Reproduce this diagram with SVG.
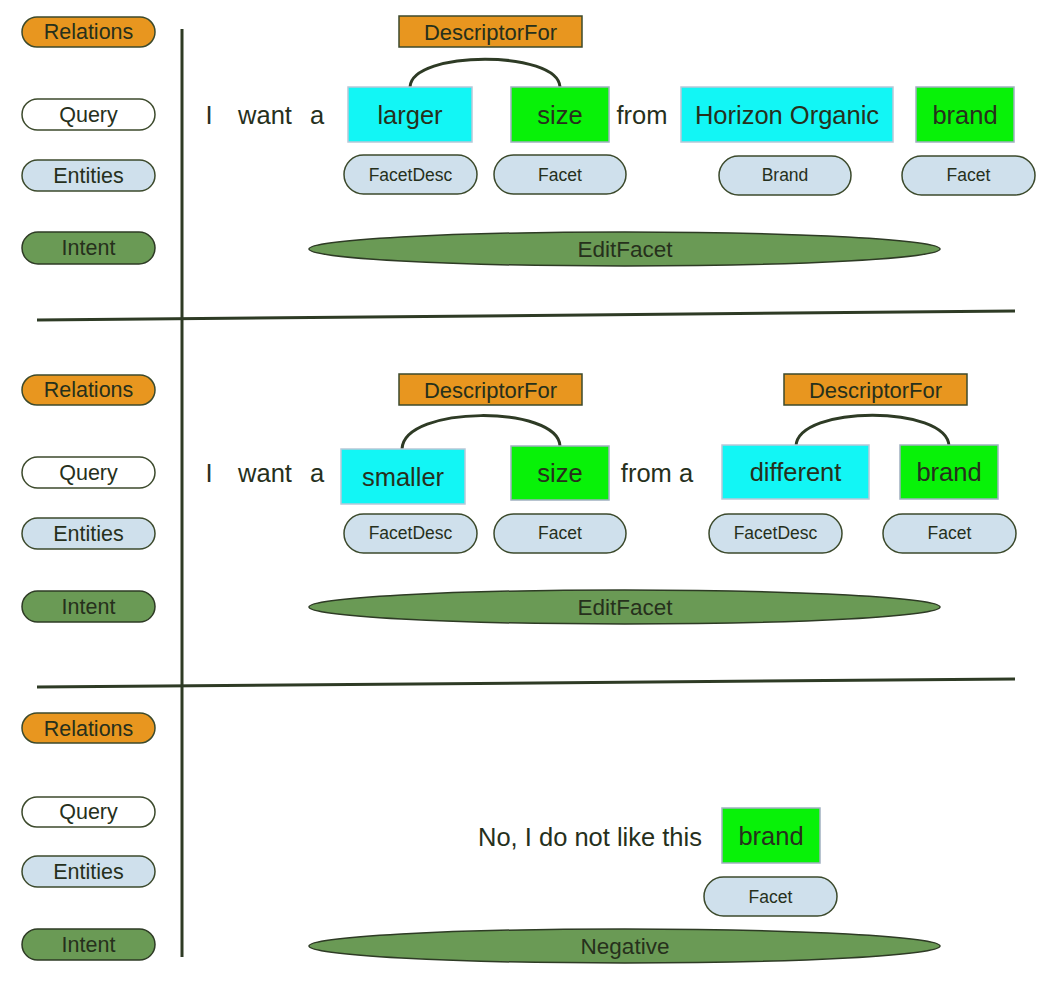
<svg xmlns="http://www.w3.org/2000/svg" width="1048" height="988" viewBox="0 0 1048 988">
<style>
text{font-family:"Liberation Sans",Arial,sans-serif;fill:#26301c;text-anchor:middle;dominant-baseline:central}
.lbl{font-size:21.5px}
.rel{fill:#e8961f;stroke:#3c4a2c;stroke-width:1.5}
.qry{fill:#ffffff;stroke:#3c4a2c;stroke-width:1.5}
.ent{fill:#cfe0ec;stroke:#3c4a2c;stroke-width:1.5}
.int{fill:#6a9a55;stroke:#2e3b25;stroke-width:1.5}
.desc{fill:#e8961f;stroke:#3c4a2c;stroke-width:1.5}
.cy{fill:#12f6f5;stroke:#b8c8d8;stroke-width:1.5}
.gr{fill:#08f208;stroke:#a0b0c0;stroke-width:1.5}
.w{font-size:25.5px}
.s{font-size:17.5px}
.dt{font-size:22px}
.it{font-size:22.5px}
.arc{fill:none;stroke:#2e3b25;stroke-width:3}
.sep{stroke:#2e3b25;stroke-width:3}
</style>
<g id="separators">
<line class="sep" x1="182" y1="29" x2="182" y2="957"/>
<line class="sep" x1="37" y1="320" x2="1015" y2="311"/>
<line class="sep" x1="37" y1="687" x2="1015" y2="679"/>
</g>
<g id="legend1">
<rect class="rel" x="22" y="17" width="133" height="30" rx="15"/><text class="lbl" x="88.5" y="32">Relations</text>
<rect class="qry" x="22" y="99" width="133" height="31" rx="15.5"/><text class="lbl" x="88.5" y="115">Query</text>
<rect class="ent" x="22" y="160" width="133" height="31" rx="15.5"/><text class="lbl" x="88.5" y="176">Entities</text>
<rect class="int" x="22" y="232" width="133" height="32" rx="16"/><text class="lbl" x="88.5" y="248">Intent</text>
</g>
<g id="legend2">
<rect class="rel" x="22" y="375" width="133" height="30" rx="15"/><text class="lbl" x="88.5" y="390">Relations</text>
<rect class="qry" x="22" y="457" width="133" height="31" rx="15.5"/><text class="lbl" x="88.5" y="473">Query</text>
<rect class="ent" x="22" y="518" width="133" height="31" rx="15.5"/><text class="lbl" x="88.5" y="534">Entities</text>
<rect class="int" x="22" y="591" width="133" height="31" rx="15.5"/><text class="lbl" x="88.5" y="607">Intent</text>
</g>
<g id="legend3">
<rect class="rel" x="22" y="713" width="133" height="30" rx="15"/><text class="lbl" x="88.5" y="729">Relations</text>
<rect class="qry" x="22" y="797" width="133" height="30" rx="15"/><text class="lbl" x="88.5" y="812">Query</text>
<rect class="ent" x="22" y="856" width="133" height="31" rx="15.5"/><text class="lbl" x="88.5" y="872">Entities</text>
<rect class="int" x="22" y="929" width="133" height="31" rx="15.5"/><text class="lbl" x="88.5" y="945">Intent</text>
</g>
<g id="connectors">
<path class="arc" d="M410,87 C412,50 558,50 560,87"/>
<path class="arc" d="M402,449 C404,405 558,405 560,446"/>
<path class="arc" d="M796,446 C798,405 947,405 949,446"/>
</g>
<g id="query1">
<text class="w" x="209" y="115">I</text>
<text class="w" x="265" y="115">want</text>
<text class="w" x="317" y="115">a</text>
<text class="w" x="642" y="115">from</text>
</g>
<g id="rel1"><rect class="desc" x="399" y="16" width="183" height="31"/><text class="dt" x="490.5" y="32">DescriptorFor</text></g>
<g id="larger"><rect class="cy" x="348" y="87" width="124" height="55"/><text class="w" x="410" y="115">larger</text></g>
<g id="size1"><rect class="gr" x="511" y="87" width="98" height="55"/><text class="w" x="560" y="115">size</text></g>
<g id="horizon"><rect class="cy" x="681" y="87" width="212" height="55"/><text class="w" x="787" y="115">Horizon Organic</text></g>
<g id="brand1"><rect class="gr" x="916" y="87" width="98" height="55"/><text class="w" x="965" y="115">brand</text></g>
<g id="ent1a"><rect class="ent" x="344" y="155" width="133" height="39" rx="19.5"/><text class="s" x="410.5" y="175">FacetDesc</text></g>
<g id="ent1b"><rect class="ent" x="494" y="155" width="132" height="39" rx="19.5"/><text class="s" x="560" y="175">Facet</text></g>
<g id="ent1c"><rect class="ent" x="719" y="156" width="132" height="39" rx="19.5"/><text class="s" x="785" y="175">Brand</text></g>
<g id="ent1d"><rect class="ent" x="902" y="156" width="133" height="39" rx="19.5"/><text class="s" x="968.5" y="175">Facet</text></g>
<g id="intent1"><ellipse class="int" cx="624.5" cy="249" rx="315.5" ry="17"/><text class="it" x="625" y="249">EditFacet</text></g>
<g id="query2">
<text class="w" x="209" y="473">I</text>
<text class="w" x="265" y="473">want</text>
<text class="w" x="317" y="473">a</text>
<text class="w" x="657" y="473">from a</text>
</g>
<g id="rel2a"><rect class="desc" x="399" y="374" width="183" height="31"/><text class="dt" x="490.5" y="390">DescriptorFor</text></g>
<g id="rel2b"><rect class="desc" x="784" y="374" width="183" height="31"/><text class="dt" x="875.5" y="390">DescriptorFor</text></g>
<g id="smaller"><rect class="cy" x="341" y="449" width="124" height="55"/><text class="w" x="403" y="477">smaller</text></g>
<g id="size2"><rect class="gr" x="511" y="446" width="98" height="54"/><text class="w" x="560" y="473">size</text></g>
<g id="different"><rect class="cy" x="722" y="445" width="147" height="54"/><text class="w" x="795.5" y="472">different</text></g>
<g id="brand2"><rect class="gr" x="900" y="445" width="98" height="54"/><text class="w" x="949" y="472">brand</text></g>
<g id="ent2a"><rect class="ent" x="344" y="514" width="133" height="39" rx="19.5"/><text class="s" x="410.5" y="533">FacetDesc</text></g>
<g id="ent2b"><rect class="ent" x="494" y="514" width="132" height="39" rx="19.5"/><text class="s" x="560" y="533">Facet</text></g>
<g id="ent2c"><rect class="ent" x="709" y="514" width="133" height="39" rx="19.5"/><text class="s" x="775.5" y="533">FacetDesc</text></g>
<g id="ent2d"><rect class="ent" x="883" y="514" width="133" height="39" rx="19.5"/><text class="s" x="949.5" y="533">Facet</text></g>
<g id="intent2"><ellipse class="int" cx="624.5" cy="607" rx="315.5" ry="17"/><text class="it" x="625" y="607">EditFacet</text></g>
<g id="query3"><text class="w" x="590" y="837">No, I do not like this</text></g>
<g id="brand3"><rect class="gr" x="722" y="808" width="98" height="55"/><text class="w" x="771" y="836">brand</text></g>
<g id="ent3"><rect class="ent" x="704" y="877" width="133" height="39" rx="19.5"/><text class="s" x="770.5" y="897">Facet</text></g>
<g id="intent3"><ellipse class="int" cx="624.5" cy="946" rx="315.5" ry="17"/><text class="it" x="625" y="946">Negative</text></g>
</svg>
